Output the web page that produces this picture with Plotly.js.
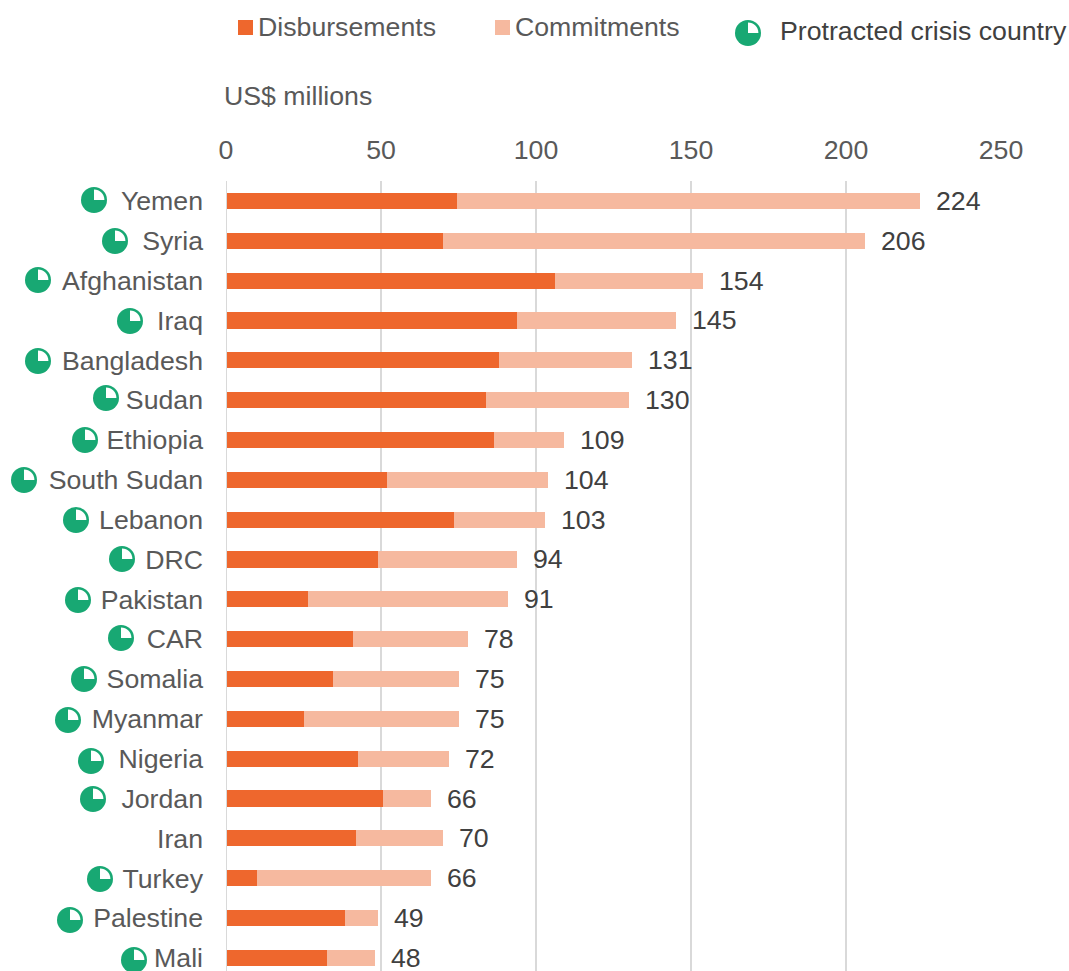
<!DOCTYPE html>
<html>
<head>
<meta charset="utf-8">
<script src="https://cdn.plot.ly/plotly-3.0.1.min.js"></script>
<style>html,body{margin:0;padding:0;background:#fff;overflow:hidden}</style>
</head>
<body>
<div id="chart" style="width:1069px;height:971px"></div>
<script>
// Development finance per country, US$ millions
const countries = ["Yemen","Syria","Afghanistan","Iraq","Bangladesh","Sudan","Ethiopia","South Sudan","Lebanon","DRC","Pakistan","CAR","Somalia","Myanmar","Nigeria","Jordan","Iran","Turkey","Palestine","Mali"];
const disbursements = [74.5,70,106,94,88,84,86.5,52,73.5,49,26.5,41,34.5,25,42.5,50.5,42,10,38.5,32.5];
const commitments = [149.5,136,48,51,43,46,22.5,52,29.5,45,64.5,37,40.5,50,29.5,15.5,28,56,10.5,15.5];
const totals = [224,206,154,145,131,130,109,104,103,94,91,78,75,75,72,66,70,66,49,48];
const xTicks = [0,50,100,150,200,250];

// Page placement of the protracted-crisis badges beside the country names (null = no badge)
const badgeX = [94,115,38,130,38,106,85,24,76,122,78,121,84,68,91,93,null,100,70,134];
const badgeY = [200,241,280,321,361,398,440,480,520,559,600,638,679,720,761,799,null,879,920,960];

const W = 1069, H = 971;
const M = {l:226, r:68, t:181, b:0};
const paperX = px => (px - M.l) / (W - M.l - M.r);
const paperY = py => (H - M.b - py) / (H - M.t - M.b);

const ORANGE = "#ee672d", PEACH = "#f6b99f", GREEN = "#18a873", GRID = "#d9d9d9";
const GREY = "#595959", DARK = "#404040", FONT = "Liberation Sans, Arial, sans-serif", SIZE = 26.7;

// Green disc with a white quarter sector in its upper right
function badge(px, py) {
  const base = {xref:"paper", yref:"paper", xsizemode:"pixel", ysizemode:"pixel",
                xanchor:paperX(px), yanchor:paperY(py), line:{width:0}};
  const R = 13, r = 10.4, k = 0.5523 * r;
  return [
    Object.assign({}, base, {type:"circle", x0:-R, x1:R, y0:-R, y1:R, fillcolor:GREEN}),
    Object.assign({}, base, {type:"path", fillcolor:"#ffffff",
      path:`M0,0 L0,${r} C${k},${r} ${r},${k} ${r},0 Z`})
  ];
}

function swatch(x0, x1, color) {
  return {type:"rect", xref:"paper", yref:"paper", x0:paperX(x0), x1:paperX(x1),
          y0:paperY(35), y1:paperY(20), fillcolor:color, line:{width:0}};
}

function pageText(text, px, py, color) {
  return {text, xref:"paper", yref:"paper", x:paperX(px), y:paperY(py), xanchor:"left", yanchor:"middle",
          showarrow:false, font:{family:FONT, size:SIZE, color}};
}

// The baseline sits over the bar starts, unlike the other gridlines
const baseline = {type:"line", layer:"above", xref:"x", yref:"paper", x0:0, x1:0, y0:0, y1:1,
                  line:{color:GRID, width:2}};

const shapes = [baseline, swatch(238,253,ORANGE), swatch(495,510,PEACH), ...badge(748,33)];
countries.forEach((c,i) => { if (badgeX[i] !== null) shapes.push(...badge(badgeX[i], badgeY[i])); });

const annotations = [
  pageText("Disbursements", 256, 27, GREY),
  pageText("Commitments", 513, 27, GREY),
  pageText("Protracted crisis country", 778, 31, DARK),
  pageText("US$ millions", 222, 96, GREY),
  ...countries.map((c,i) => ({text:String(totals[i]), x:totals[i], y:c, xref:"x", yref:"y",
      xanchor:"left", yanchor:"middle", xshift:14, showarrow:false,
      font:{family:FONT, size:SIZE, color:DARK}}))
];

const traces = [
  {type:"bar", orientation:"h", name:"Disbursements", y:countries, x:disbursements,
   marker:{color:ORANGE, line:{width:0}}, hoverinfo:"x+y+name"},
  {type:"bar", orientation:"h", name:"Commitments", y:countries, x:commitments,
   marker:{color:PEACH, line:{width:0}}, hoverinfo:"x+y+name"}
];

const layout = {
  width:W, height:H, margin:M, showlegend:false, barmode:"stack", bargap:0.595,
  paper_bgcolor:"#fff", plot_bgcolor:"#fff",
  font:{family:FONT, size:SIZE, color:GREY},
  xaxis:{side:"top", range:[0,250], tickmode:"array", tickvals:xTicks, ticktext:xTicks.map(String),
         showgrid:true, gridcolor:GRID, gridwidth:2, zeroline:false,
         showline:false, ticks:"", ticklabelstandoff:16, tickfont:{family:FONT, size:SIZE, color:GREY}, fixedrange:true},
  yaxis:{type:"category", categoryorder:"array", categoryarray:countries, range:[19.33,-0.5],
         showgrid:false, zeroline:false, showline:false, ticks:"", ticklabelstandoff:22,
         tickfont:{family:FONT, size:SIZE, color:GREY}, fixedrange:true},
  shapes, annotations
};

Plotly.newPlot("chart", traces, layout, {displayModeBar:false, responsive:false});
</script>
</body>
</html>
